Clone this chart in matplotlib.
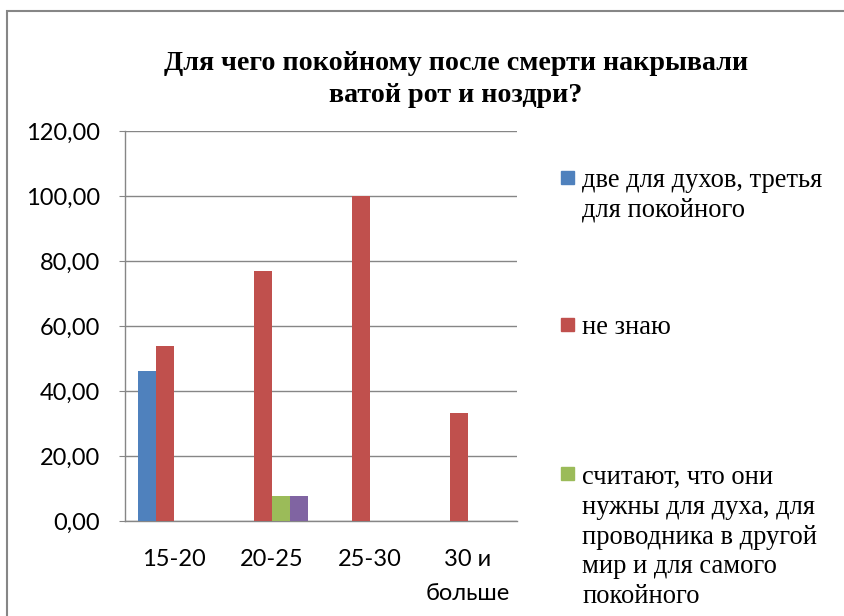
import matplotlib
matplotlib.use("Agg")
import matplotlib.pyplot as plt
import numpy as np
from matplotlib.patches import Rectangle
from matplotlib.ticker import FuncFormatter

categories = ["15-20", "20-25", "25-30", "30 и\nбольше"]
series_names = [
    "две для духов, третья\nдля покойного",
    "не знаю",
    "считают, что они\nнужны для духа, для\nпроводника в другой\nмир и для самого\nпокойного",
    "другое",
]
s_blue = [46.15, 0, 0, 0]
s_red = [53.85, 76.92, 100.0, 33.33]
s_green = [0, 7.69, 0, 0]
s_purple = [0, 7.69, 0, 0]
series_values = [s_blue, s_red, s_green, s_purple]
colors = ["#4F81BD", "#C0504D", "#9BBB59", "#8064A2"]
title = "Для чего покойному после смерти накрывали\nватой рот и ноздри?"
yticks = [0, 20, 40, 60, 80, 100, 120]

SERIF = ["Liberation Serif", "Times New Roman", "DejaVu Serif"]
SANS = ["Lato", "DejaVu Sans"]

W, H = 844, 616
fig = plt.figure(figsize=(W / 100, H / 100), dpi=100)

def fx(px):
    return px / W

def fy(py):
    return 1 - py / H

# outer chart frame
fig.patches.append(Rectangle((fx(7), fy(700)), fx(900), 689 / H,
                             transform=fig.transFigure, fill=False,
                             edgecolor="#868686", linewidth=1.5))

ax = fig.add_axes([fx(125), fy(521), fx(517 - 125), (521 - 131) / H])
x = np.arange(len(categories))
bw = 18 / 98
n = len(series_values)
for i, (vals, c) in enumerate(zip(series_values, colors)):
    ax.bar(x + (i - (n - 1) / 2) * bw, vals, width=bw, color=c, zorder=3)

ax.set_xlim(-0.5, len(categories) - 0.5)
ax.set_ylim(0, 120)
ax.set_yticks(yticks)
ax.yaxis.set_major_formatter(FuncFormatter(lambda v, p: f"{v:.2f}".replace(".", ",")))
ax.set_xticks(x)
ax.set_xticklabels(categories, fontsize=17, family=SANS, linespacing=1.75)
for lab in ax.get_yticklabels():
    lab.set_fontfamily(SANS)
    lab.set_fontsize(17)
ax.grid(axis="y", color="#868686", linewidth=1, zorder=0)
for s in ["top", "right"]:
    ax.spines[s].set_visible(False)
for s in ["left", "bottom"]:
    ax.spines[s].set_color("#868686")
    ax.spines[s].set_linewidth(1)
ax.tick_params(axis="y", length=4, color="#868686", pad=14)
ax.tick_params(axis="x", length=0, pad=20)

# va='baseline' aligns the last line's baseline
fig.text(fx(456), fy(102), title, ha="center", va="baseline", fontsize=20.2,
         fontweight="bold", family=SERIF, linespacing=1.37)

# legend (Excel-style, top-aligned entries); the 4th entry falls outside the chart
LINE = 30
leg_first_baselines = [186.7, 334, 483]
for name, c, by in zip(series_names, colors, leg_first_baselines):
    fig.patches.append(Rectangle((fx(561), fy(by - 3)), fx(13), 13 / H,
                                 transform=fig.transFigure, color=c))
    last = by + LINE * name.count("\n")
    fig.text(fx(582), fy(last), name, ha="left", va="baseline", fontsize=19.1,
             family=SERIF, linespacing=1.25)

fig.savefig("out.png", dpi=100)
